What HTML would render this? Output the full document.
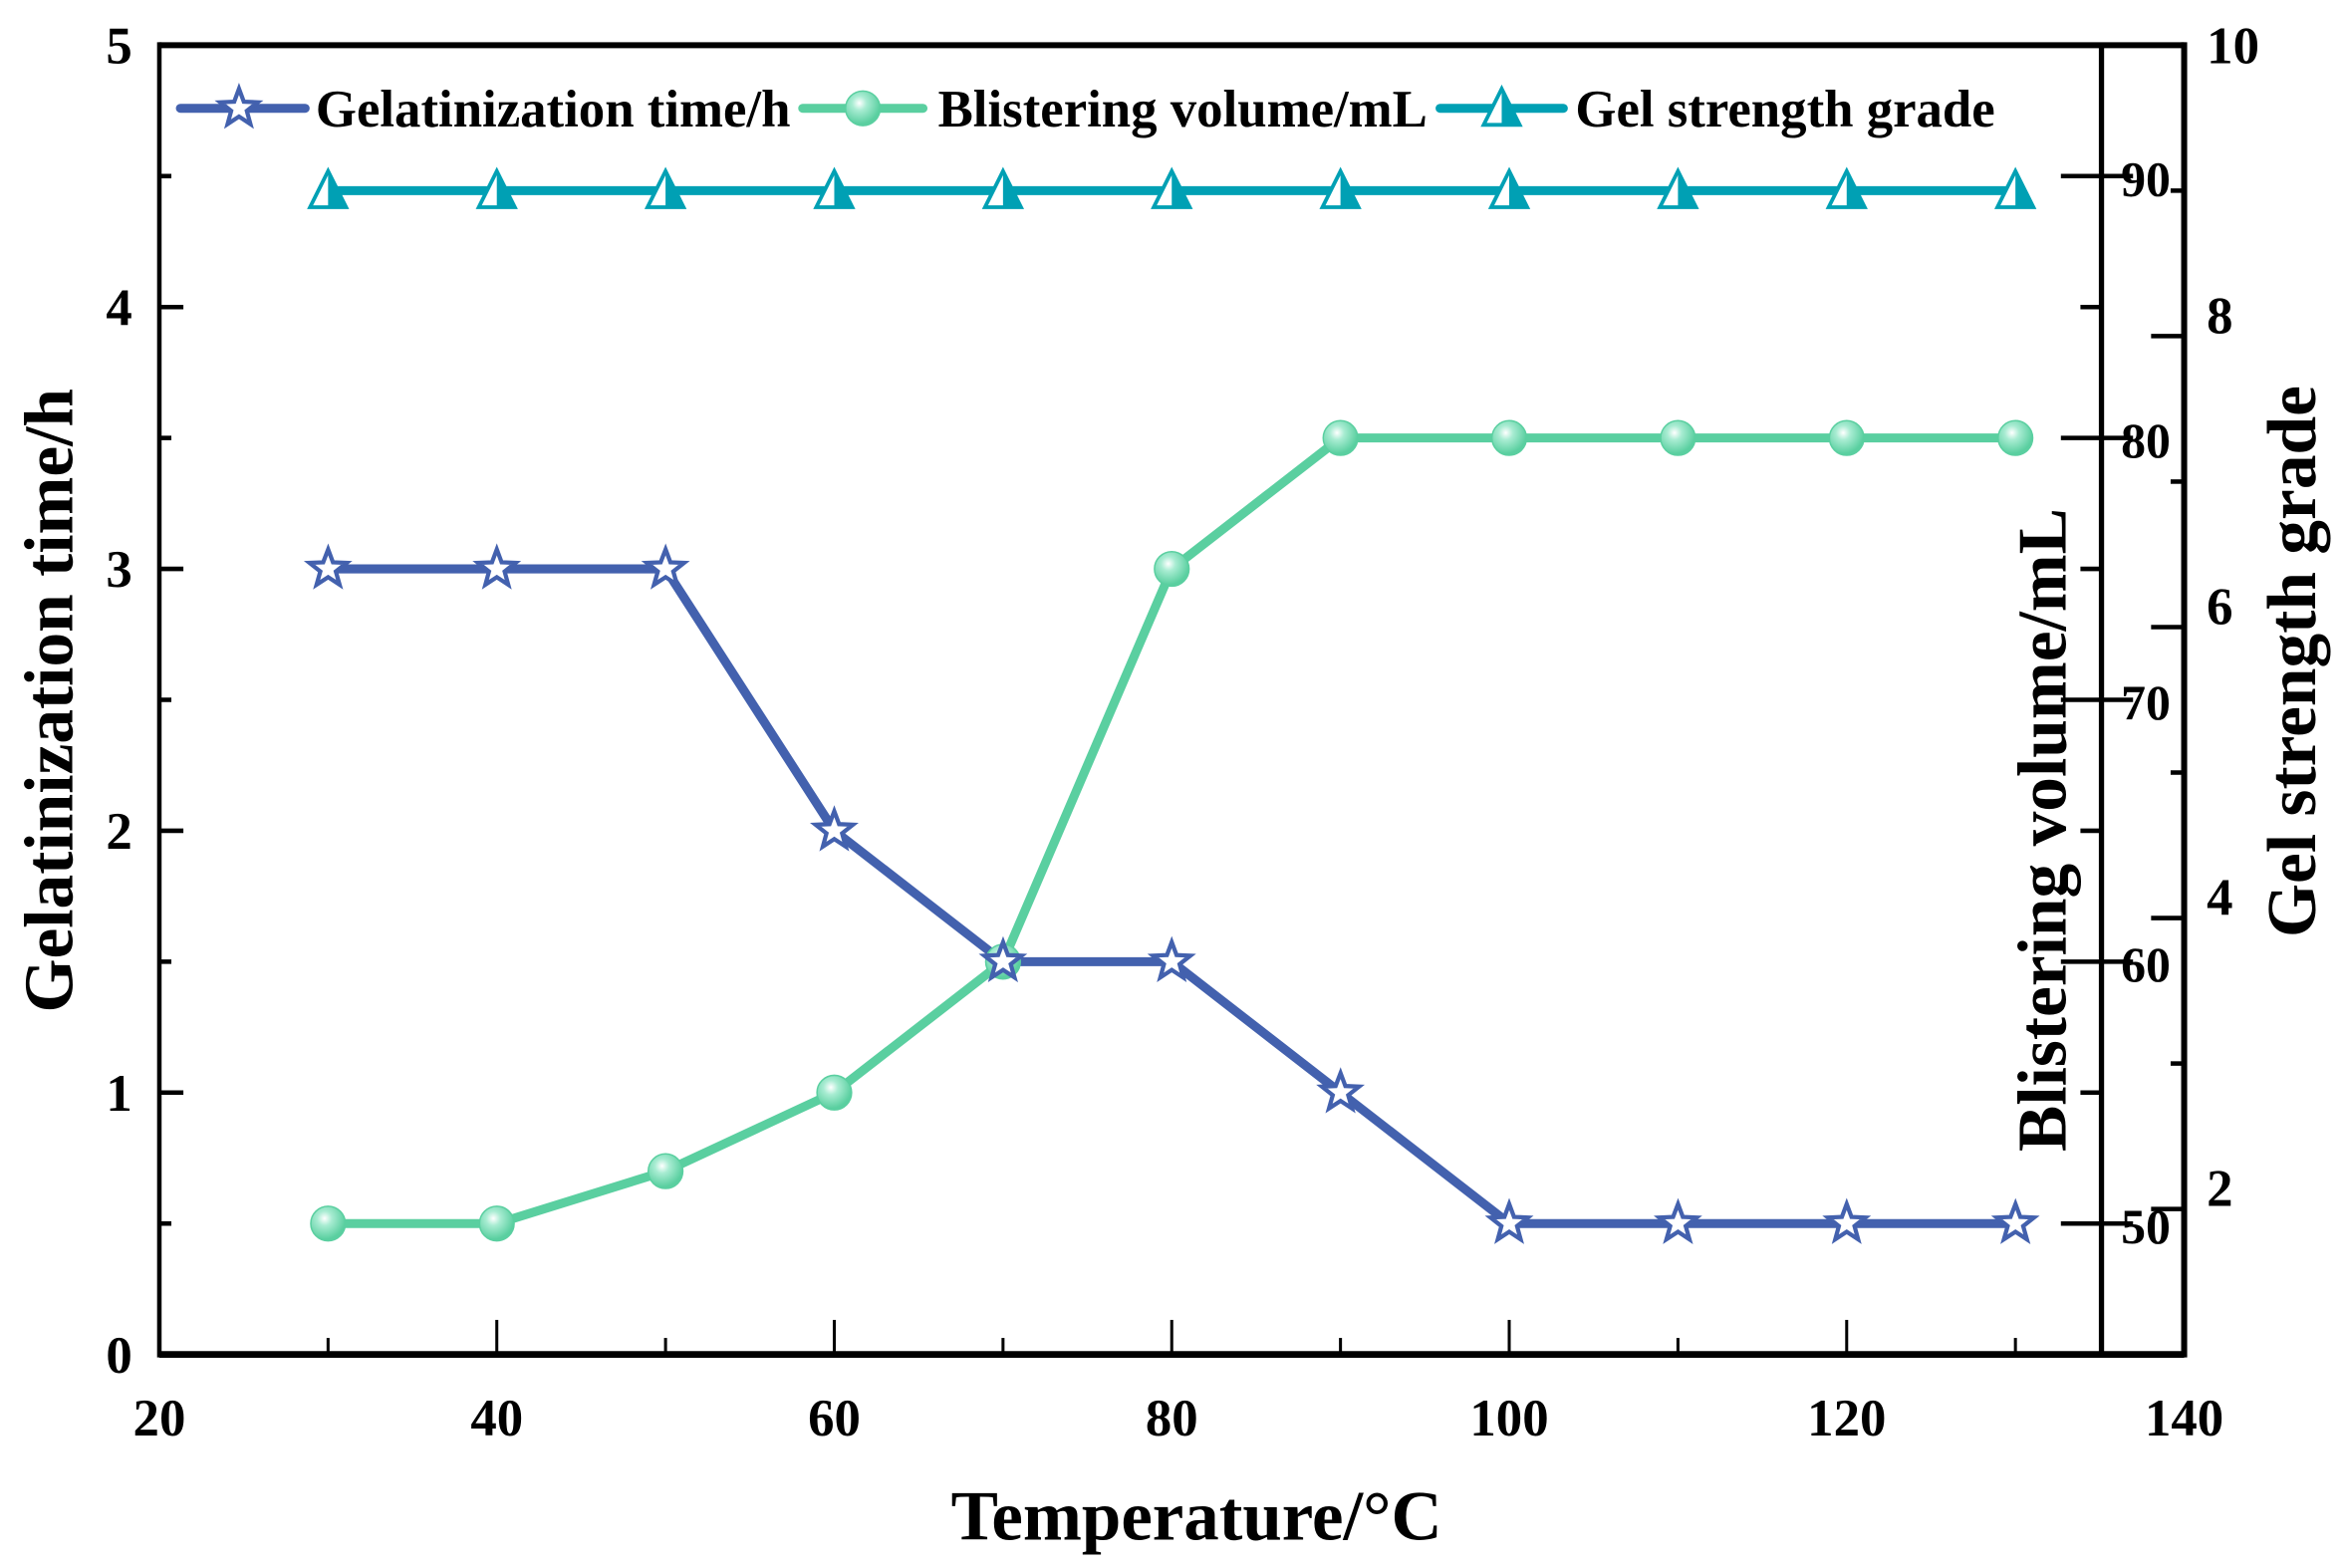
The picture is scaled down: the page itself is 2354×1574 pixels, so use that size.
<!DOCTYPE html>
<html><head><meta charset="utf-8"><style>
html,body{margin:0;padding:0;background:#fff}
svg{display:block}
text{font-family:"Liberation Serif",serif;font-weight:bold;fill:#000}
</style></head><body>
<svg id="chart" width="2354" height="1574" viewBox="0 0 1560 1043" xmlns="http://www.w3.org/2000/svg">
<defs>
<radialGradient id="ball" cx="0.4" cy="0.35" r="0.6">
<stop offset="0" stop-color="#ffffff"/><stop offset="0.35" stop-color="#a8ecd2"/><stop offset="1" stop-color="#5ACFA0"/>
</radialGradient>
</defs>
<g id="axes"></g>
<g id="series"></g>
<g id="legend"></g>
</svg>
<script>
const temps=[30,40,50,60,70,80,90,100,110,120,130];
const gelTime=[3,3,3,2,1.5,1.5,1,0.5,0.5,0.5,0.5];
const blister=[50,50,52,55,60,75,80,80,80,80,80];
const gelGrade=[9,9,9,9,9,9,9,9,9,9,9];
const xTicks=[20,40,60,80,100,120,140];
const yTicks=[0,1,2,3,4,5];
const bTicks=[50,60,70,80,90];
const gTicks=[2,4,6,8,10];

const NS="http://www.w3.org/2000/svg";
const L=106,R=1453,RB=1398,T=30,B=901;
const xs=v=>L+(v-20)/120*(R-L);
const ys=v=>B-v/5*(B-T);
const yb=v=>B-(v-45)/50*(B-T);
const yg=v=>B-(v-1)/9*(B-T);
function mk(tag,attrs,parent,txt){const e=document.createElementNS(NS,tag);for(const k in attrs)e.setAttribute(k,attrs[k]);if(txt!==undefined)e.textContent=txt;parent.appendChild(e);return e;}
const ax=document.getElementById('axes'),se=document.getElementById('series'),lg=document.getElementById('legend');

let e;
e=mk('line',{x1:L,y1:T,x2:R,y2:T,stroke:'#000','stroke-width':4},ax);

e=mk('line',{x1:L,y1:B,x2:R,y2:B,stroke:'#000','stroke-width':4.5},ax);

e=mk('line',{x1:L,y1:T-2,x2:L,y2:B+2,stroke:'#000','stroke-width':3},ax);

e=mk('line',{x1:RB,y1:T,x2:RB,y2:B+2,stroke:'#000','stroke-width':3.5},ax);

e=mk('line',{x1:R,y1:T-2,x2:R,y2:B+2,stroke:'#000','stroke-width':4},ax);


for(let v=20;v<=130;v+=10){const maj=(v%20===0);
 e=mk('line',{x1:xs(v),y1:B,x2:xs(v),y2:B-(maj?23:11),stroke:'#000','stroke-width':2},ax);
 }
xTicks.forEach(v=>{e=mk('text',{x:xs(v),y:B+54,'font-size':35,'text-anchor':'middle'},ax,String(v));
 });
for(let v=0;v<=5;v+=0.5){const maj=Number.isInteger(v);
 e=mk('line',{x1:L,y1:ys(v),x2:L+(maj?16:8),y2:ys(v),stroke:'#000','stroke-width':3},ax);
 }
yTicks.forEach(v=>{e=mk('text',{x:88,y:ys(v)+12,'font-size':35,'text-anchor':'end'},ax,String(v));
 });
for(let v=50;v<=95;v+=5){const maj=(v%10===0);
 e=mk('line',{x1:RB-(maj?27:14),y1:yb(v),x2:RB+(maj?21:0),y2:yb(v),stroke:'#000','stroke-width':3},ax);
 }
bTicks.forEach(v=>{e=mk('text',{x:1411,y:yb(v)+13,'font-size':33},ax,String(v));
 });
for(let v=2;v<=10;v++){const maj=(v%2===0);
 e=mk('line',{x1:R-(maj?22:9),y1:yg(v),x2:R,y2:yg(v),stroke:'#000','stroke-width':3},ax);
 }
gTicks.forEach(v=>{e=mk('text',{x:1468,y:yg(v)+(v===10?12:-2),'font-size':35},ax,String(v));
 });

e=mk('text',{x:796,y:1024,'font-size':47,'text-anchor':'middle'},ax,'Temperature/°C');

e=mk('text',{x:0,y:0,'font-size':46,'text-anchor':'middle',transform:'translate(48,466) rotate(-90)'},ax,'Gelatinization time/h');

e=mk('text',{x:0,y:0,'font-size':46,'text-anchor':'middle',transform:'translate(1374,552) rotate(-90)'},ax,'Blistering volume/mL');

e=mk('text',{x:0,y:0,'font-size':46,'text-anchor':'middle',transform:'translate(1540,440) rotate(-90)'},ax,'Gel strength grade');


function star(cx,cy,r,parent){let p=[];for(let i=0;i<10;i++){const a=-Math.PI/2+i*Math.PI/5;const rr=i%2?r*0.42:r;p.push((cx+rr*Math.cos(a)).toFixed(1)+','+(cy+rr*Math.sin(a)).toFixed(1));}
 return mk('polygon',{points:p.join(' '),fill:'#fff',stroke:'#4361AE','stroke-width':2.8,'stroke-linejoin':'miter'},parent);}
function tri(cx,cy,parent){const g=mk('g',{},parent);
 mk('polygon',{points:`${cx-12},${cy+11} ${cx},${cy-13} ${cx+12},${cy+11}`,fill:'#fff',stroke:'#00A0B4','stroke-width':2.5},g);
 mk('polygon',{points:`${cx},${cy+11} ${cx},${cy-13} ${cx+12},${cy+11}`,fill:'#00A0B4'},g);return g;}
function ball(cx,cy,parent){return mk('circle',{cx:cx,cy:cy,r:11.5,fill:'url(#ball)',stroke:'#5ACFA0','stroke-width':1},parent);}

function line(xv,yv,fy,color){const pts=xv.map((v,i)=>xs(v)+','+fy(yv[i])).join(' ');
 return mk('polyline',{points:pts,fill:'none',stroke:color,'stroke-width':6,'stroke-linejoin':'round','stroke-linecap':'round'},se);}

e=line(temps,gelGrade,yg,'#00A0B4');
e=line(temps,blister,yb,'#5ACFA0');
e=line(temps,gelTime,ys,'#4361AE');
temps.forEach((t,i)=>{
 e=tri(xs(t),yg(gelGrade[i]),se);
 e=ball(xs(t),yb(blister[i]),se);
 e=star(xs(t),ys(gelTime[i]),13,se);
});

const LY=72;
e=mk('line',{x1:120,y1:LY,x2:203,y2:LY,stroke:'#4361AE','stroke-width':6,'stroke-linecap':'round'},lg);

e=star(159,LY,13,lg);
e=mk('text',{x:210,y:LY+12,'font-size':35},lg,'Gelatinization time/h');

e=mk('line',{x1:534,y1:LY,x2:614,y2:LY,stroke:'#5ACFA0','stroke-width':6,'stroke-linecap':'round'},lg);

e=ball(574,LY,lg);
e=mk('text',{x:624,y:LY+12,'font-size':35},lg,'Blistering volume/mL');

e=mk('line',{x1:958,y1:LY,x2:1040,y2:LY,stroke:'#00A0B4','stroke-width':6,'stroke-linecap':'round'},lg);

e=tri(999,LY,lg);
e=mk('text',{x:1048,y:LY+12,'font-size':35},lg,'Gel strength grade');

</script>
</body></html>
